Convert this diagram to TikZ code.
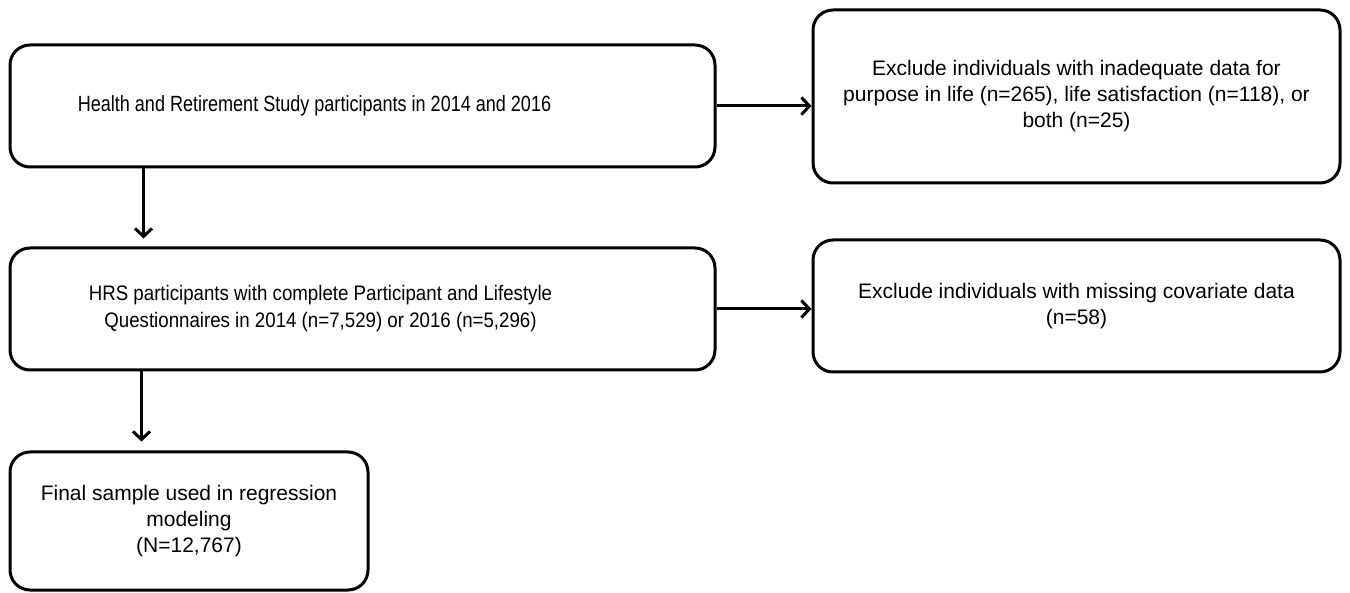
\documentclass[tikz,border=0pt]{standalone}
\usepackage{fontspec}
\setmainfont{Liberation Sans}
\newfontfamily\narrowA[FakeStretch=0.82]{Liberation Sans}
\newfontfamily\narrowB[FakeStretch=0.89]{Liberation Sans}
\usetikzlibrary{arrows.meta}
\begin{document}
\begin{tikzpicture}[x=1pt,y=1pt,
  box/.style={draw, line width=3pt, rounded corners=20pt, inner sep=0pt, align=center,
    font=\fontsize{21}{26}\selectfont},
  arr/.style={line width=3pt, -{Straight Barb[length=8pt,width=17pt]}}]
\useasboundingbox (0,0) rectangle (1350,-593);
\node[box, minimum width=705pt, minimum height=122pt, font=\fontsize{22}{26}\selectfont\narrowA] (b1) at (362.5,-106)
  {Health and Retirement Study participants in 2014 and 2016\hspace*{96pt}};
\node[box, minimum width=527pt, minimum height=173pt] (b2) at (1076.5,-96.5)
  {Exclude individuals with inadequate data for\\purpose in life (n=265), life satisfaction (n=118), or\\both (n=25)};
\node[box, minimum width=705pt, minimum height=122pt, font=\fontsize{21}{27}\selectfont\narrowB] (b3) at (362.5,-309)
  {HRS participants with complete Participant and Lifestyle\hspace*{84pt}\\Questionnaires in 2014 (n=7,529) or 2016 (n=5,296)\hspace*{84pt}};
\node[box, minimum width=527pt, minimum height=132pt] (b4) at (1076.5,-306)
  {Exclude individuals with missing covariate data\\(n=58)};
\node[box, minimum width=358pt, minimum height=138pt] (b5) at (189,-521)
  {Final sample used in regression\\modeling\\(N=12,767)};
\draw[arr] (b1.east) -- (b1.east -| b2.west);
\draw[arr] (b3.east) -- (b3.east -| b4.west);
\draw[arr, shorten >=8pt] ([xshift=135pt]b1.south west) -- ([xshift=135pt]b3.north west);
\draw[arr, shorten >=9pt] ([xshift=133pt]b3.south west) -- ([xshift=133pt]b5.north west);
\end{tikzpicture}
\end{document}
